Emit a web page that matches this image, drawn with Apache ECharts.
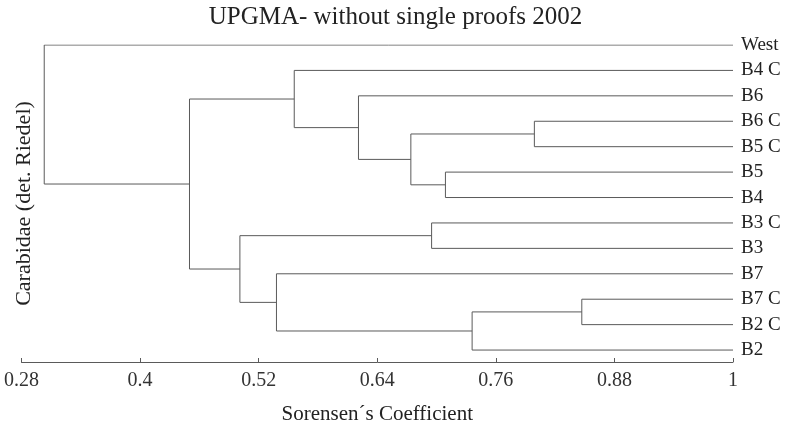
<!DOCTYPE html>
<html>
<head>
<meta charset="utf-8">
<script src="https://cdn.jsdelivr.net/npm/echarts@6/dist/echarts.min.js"></script>
</head>
<body style="margin:0;background:#fff">
<div id="main" style="width:791px;height:430px"></div>
<script>
// leaves, top to bottom
var leaves = ['West', 'B4 C', 'B6', 'B6 C', 'B5 C', 'B5', 'B4', 'B3 C', 'B3', 'B7', 'B7 C', 'B2 C', 'B2'];
// merges: children are leaf names or 'c<n>' for earlier merges
var mergeLeft = ['B6 C', 'B5', 'c0', 'B6', 'B4 C', 'B3 C', 'B7 C', 'c6', 'B7', 'c5', 'c4', 'West'];
var mergeRight = ['B5 C', 'B4', 'c1', 'c2', 'c3', 'B3', 'B2 C', 'B2', 'c7', 'c8', 'c9', 'c10'];
var mergeHeight = [0.799, 0.709, 0.674, 0.621, 0.556, 0.695, 0.847, 0.736, 0.538, 0.501, 0.45, 0.303];
var xTicks = [0.28, 0.4, 0.52, 0.64, 0.76, 0.88, 1];

var font = 'Liberation Serif';
var lineColor = '#5a5a5a';

// position of a leaf or a cluster: [similarity, row]
var nodes = {};
leaves.forEach(function (name, i) { nodes[name] = [1, i]; });

var segs = [];
for (var i = 0; i < mergeHeight.length; i++) {
    var a = nodes[mergeLeft[i]], b = nodes[mergeRight[i]], h = mergeHeight[i];
    segs.push({ coords: [[a[0], a[1]], [h, a[1]], [h, b[1]], [b[0], b[1]]] });
    nodes['c' + i] = [h, (a[1] + b[1]) / 2];
}

var chart = echarts.init(document.getElementById('main'));

var option = {
    animation: false,
    title: {
        text: 'UPGMA- without single proofs 2002',
        left: 'center',
        top: 0,
        textStyle: { fontFamily: font, fontSize: 25, fontWeight: 'normal', color: '#222' }
    },
    grid: { left: 21.5, right: 58, top: 45, bottom: 66 },
    xAxis: {
        type: 'value',
        position: 'bottom',
        min: 0.28,
        max: 1,
        name: 'Sorensen´s Coefficient',
        nameLocation: 'middle',
        nameGap: 42,
        nameTextStyle: { fontFamily: font, fontSize: 21, color: '#222' },
        axisLine: { onZero: false, lineStyle: { color: lineColor } },
        axisTick: { inside: true, length: 4, customValues: xTicks, lineStyle: { color: lineColor } },
        axisLabel: { customValues: xTicks, fontFamily: font, fontSize: 20, color: '#333', margin: 9 },
        splitLine: { show: false }
    },
    yAxis: [{
        type: 'value',
        inverse: true,
        position: 'right',
        min: 0,
        max: 12.47,
        interval: 1,
        axisLine: { show: false },
        axisTick: { show: false },
        splitLine: { show: false },
        axisLabel: {
            margin: 8,
            fontFamily: font,
            fontSize: 19,
            color: '#222',
            formatter: function (v) { return Number.isInteger(v) ? leaves[v] : ''; }
        }
    }, {
        type: 'value',
        position: 'left',
        min: 0,
        max: 12.47,
        name: 'Carabidae (det. Riedel)',
        nameLocation: 'middle',
        nameRotate: 90,
        nameGap: -14,
        nameTextStyle: { fontFamily: font, fontSize: 22, color: '#222' },
        axisLine: { show: false },
        axisTick: { show: false },
        axisLabel: { show: false },
        splitLine: { show: false }
    }],
    series: [{
        type: 'lines',
        coordinateSystem: 'cartesian2d',
        polyline: true,
        silent: true,
        lineStyle: { color: lineColor, width: 1, opacity: 1 },
        data: segs
    }]
};

chart.setOption(option);
</script>
</body>
</html>
